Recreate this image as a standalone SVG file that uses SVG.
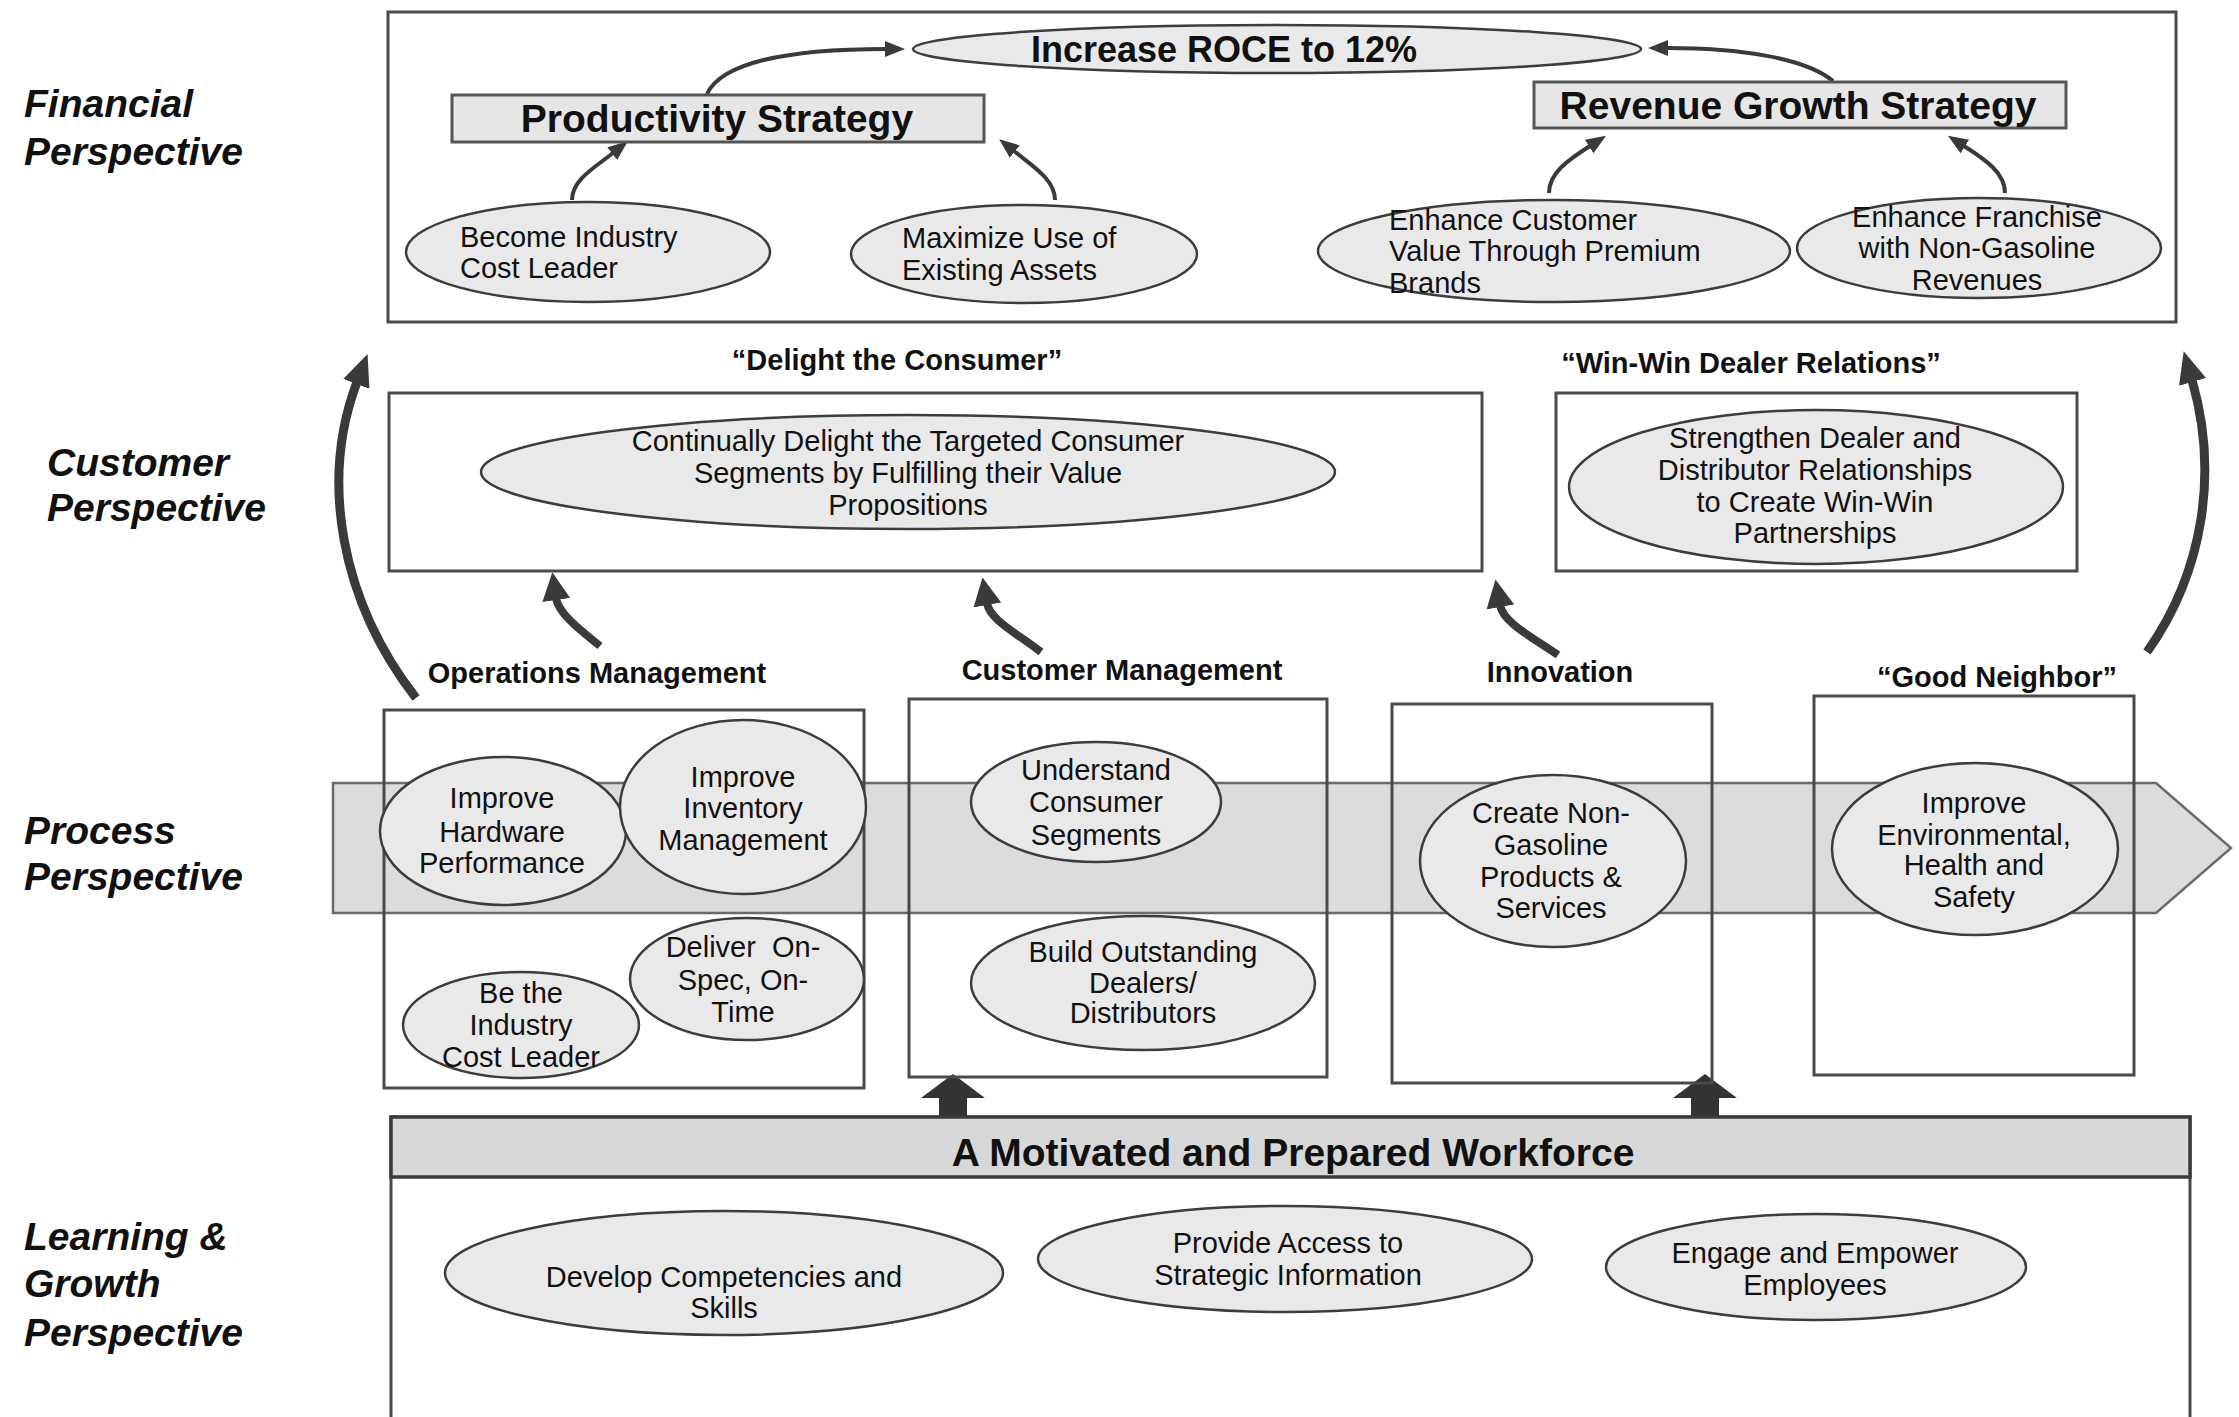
<svg xmlns="http://www.w3.org/2000/svg" width="2239" height="1417" viewBox="0 0 2239 1417">
<style>
.box{fill:none;stroke:#4a4a4a;stroke-width:3}
.ell{fill:#e9e9e9;stroke:#3c3c3c;stroke-width:2.5}
.t{font-family:"Liberation Sans",Arial,sans-serif;font-size:29px;fill:#111}
.c{text-anchor:middle}
.b{font-weight:bold}
.s36{font-size:36px}
.s39{font-size:39px}
.p{font-family:"Liberation Sans",Arial,sans-serif;font-size:39px;font-weight:bold;font-style:italic;fill:#111}
.thin{fill:none;stroke:#3a3a3a;stroke-width:4}
.mid{fill:none;stroke:#3a3a3a;stroke-width:8}
.big{fill:none;stroke:#3a3a3a;stroke-width:9}
.blk{fill:#333;stroke:none}
</style>
<defs>
<marker id="ah" markerUnits="userSpaceOnUse" viewBox="0 0 20 16" refX="1" refY="8" markerWidth="20" markerHeight="16" orient="auto"><path d="M0,0 L20,8 L0,16 Z" fill="#3a3a3a"/></marker>
<marker id="ahm" markerUnits="userSpaceOnUse" viewBox="0 0 28 28" refX="2" refY="14" markerWidth="28" markerHeight="28" orient="auto"><path d="M0,0 L28,14 L0,28 Z" fill="#3a3a3a"/></marker>
<marker id="ahb" markerUnits="userSpaceOnUse" viewBox="0 0 32 28" refX="2" refY="14" markerWidth="32" markerHeight="28" orient="auto"><path d="M0,0 L32,14 L0,28 Z" fill="#3a3a3a"/></marker>
</defs>
<rect width="2239" height="1417" fill="#ffffff"/>

<g id="labels">
<text class="p" x="24" y="117">Financial</text>
<text class="p" x="24" y="165">Perspective</text>
<text class="p" x="47" y="476">Customer</text>
<text class="p" x="47" y="521">Perspective</text>
<text class="p" x="24" y="844">Process</text>
<text class="p" x="24" y="890">Perspective</text>
<text class="p" x="24" y="1250">Learning &amp;</text>
<text class="p" x="24" y="1297">Growth</text>
<text class="p" x="24" y="1346">Perspective</text>
</g>

<g id="financial-frame"><rect class="box" x="388" y="12" width="1788" height="310" stroke="#666"/></g>

<g id="band"><path d="M333,783 L2156,783 L2231,848 L2156,913 L333,913 Z" fill="#dcdcdc" stroke="#6a6a6a" stroke-width="2.5"/></g>

<g id="connectors">
<path class="thin" d="M707,94 C722,62 790,49 886,49" marker-end="url(#ah)"/>
<path class="thin" d="M1833,81 C1805,58 1740,48 1667,48" marker-end="url(#ah)"/>
<path class="thin" d="M572,200 C572,180 594,168 613,153" marker-end="url(#ah)"/>
<path class="thin" d="M1055,200 C1055,180 1034,167 1014,151" marker-end="url(#ah)"/>
<path class="thin" d="M1549,193 C1549,173 1568,160 1590,146" marker-end="url(#ah)"/>
<path class="thin" d="M2005,193 C2005,173 1986,160 1964,146" marker-end="url(#ah)"/>
<path class="mid" d="M600,646 C575,626 558,612 556,598" marker-end="url(#ahm)"/>
<path class="mid" d="M1041,652 C1015,632 990,620 987,603" marker-end="url(#ahm)"/>
<path class="mid" d="M1558,655 C1530,636 1503,622 1500,605" marker-end="url(#ahm)"/>
<path class="big" d="M416,698 C340,600 320,480 357,382" marker-end="url(#ahb)"/>
<path class="big" d="M2147,652 C2205,570 2218,470 2192,380" marker-end="url(#ahb)"/>
<polygon class="blk" points="953,1074 985,1098 967,1098 967,1117 939,1117 939,1098 921,1098"/>
<polygon class="blk" points="1705,1074 1737,1098 1719,1098 1719,1117 1691,1117 1691,1098 1673,1098"/>
</g>

<g id="roce">
<ellipse class="ell" cx="1277" cy="49" rx="364" ry="24"/>
<text class="t b c s36" x="1224" y="62">Increase ROCE to 12%</text>
</g>
<g id="productivity">
<rect x="452" y="95" width="532" height="47" fill="#e6e6e6" stroke="#555" stroke-width="3"/>
<text class="t b c s39" x="717" y="132">Productivity Strategy</text>
</g>
<g id="revenue">
<rect x="1534" y="82" width="532" height="46" fill="#e6e6e6" stroke="#555" stroke-width="3"/>
<text class="t b c s39" x="1798" y="119">Revenue Growth Strategy</text>
</g>
<g id="become-cost-leader">
<ellipse class="ell" cx="588" cy="252" rx="182" ry="50"/>
<text class="t" x="460" y="247">Become Industry</text>
<text class="t" x="460" y="278">Cost Leader</text>
</g>
<g id="maximize-assets">
<ellipse class="ell" cx="1024" cy="254" rx="173" ry="49"/>
<text class="t" x="902" y="248">Maximize Use of</text>
<text class="t" x="902" y="280">Existing Assets</text>
</g>
<g id="enhance-customer-value">
<ellipse class="ell" cx="1554" cy="251" rx="236" ry="51"/>
<text class="t" x="1389" y="230">Enhance Customer</text>
<text class="t" x="1389" y="261">Value Through Premium</text>
<text class="t" x="1389" y="293">Brands</text>
</g>
<g id="enhance-franchise">
<ellipse class="ell" cx="1979" cy="248" rx="182" ry="50"/>
<text class="t c" x="1977" y="227">Enhance Franchise</text>
<text class="t c" x="1977" y="258">with Non-Gasoline</text>
<text class="t c" x="1977" y="290">Revenues</text>
</g>

<g id="delight-consumer">
<text class="t b c" x="897" y="370">“Delight the Consumer”</text>
<rect class="box" x="389" y="393" width="1093" height="178"/>
<ellipse class="ell" cx="908" cy="472" rx="427" ry="57"/>
<text class="t c" x="908" y="451">Continually Delight the Targeted Consumer</text>
<text class="t c" x="908" y="483">Segments by Fulfilling their Value</text>
<text class="t c" x="908" y="515">Propositions</text>
</g>
<g id="win-win">
<text class="t b c" x="1751" y="373">“Win-Win Dealer Relations”</text>
<rect class="box" x="1556" y="393" width="521" height="178"/>
<ellipse class="ell" cx="1816" cy="487" rx="247" ry="77"/>
<text class="t c" x="1815" y="448">Strengthen Dealer and</text>
<text class="t c" x="1815" y="480">Distributor Relationships</text>
<text class="t c" x="1815" y="512">to Create Win-Win</text>
<text class="t c" x="1815" y="543">Partnerships</text>
</g>

<g id="operations-management">
<text class="t b c" x="597" y="683">Operations Management</text>
<rect class="box" x="384" y="710" width="480" height="378"/>
<ellipse class="ell" cx="503" cy="831" rx="123" ry="74"/>
<text class="t c" x="502" y="808">Improve</text>
<text class="t c" x="502" y="842">Hardware</text>
<text class="t c" x="502" y="873">Performance</text>
<ellipse class="ell" cx="743" cy="807" rx="123" ry="87"/>
<text class="t c" x="743" y="787">Improve</text>
<text class="t c" x="743" y="818">Inventory</text>
<text class="t c" x="743" y="850">Management</text>
<ellipse class="ell" cx="747" cy="979" rx="117" ry="61"/>
<text class="t c" x="743" y="957">Deliver&#160; On-</text>
<text class="t c" x="743" y="990">Spec, On-</text>
<text class="t c" x="743" y="1022">Time</text>
<ellipse class="ell" cx="521" cy="1025" rx="118" ry="53"/>
<text class="t c" x="521" y="1003">Be the</text>
<text class="t c" x="521" y="1035">Industry</text>
<text class="t c" x="521" y="1067">Cost Leader</text>
</g>
<g id="customer-management">
<text class="t b c" x="1122" y="680">Customer Management</text>
<rect class="box" x="909" y="699" width="418" height="378"/>
<ellipse class="ell" cx="1096" cy="802" rx="125" ry="60"/>
<text class="t c" x="1096" y="780">Understand</text>
<text class="t c" x="1096" y="812">Consumer</text>
<text class="t c" x="1096" y="845">Segments</text>
<ellipse class="ell" cx="1143" cy="983" rx="172" ry="67"/>
<text class="t c" x="1143" y="962">Build Outstanding</text>
<text class="t c" x="1143" y="993">Dealers/</text>
<text class="t c" x="1143" y="1023">Distributors</text>
</g>
<g id="innovation">
<text class="t b c" x="1560" y="682">Innovation</text>
<rect class="box" x="1392" y="704" width="320" height="379"/>
<ellipse class="ell" cx="1553" cy="861" rx="133" ry="86"/>
<text class="t c" x="1551" y="823">Create Non-</text>
<text class="t c" x="1551" y="855">Gasoline</text>
<text class="t c" x="1551" y="887">Products &amp;</text>
<text class="t c" x="1551" y="918">Services</text>
</g>
<g id="good-neighbor">
<text class="t b c" x="1997" y="687">“Good Neighbor”</text>
<rect class="box" x="1814" y="696" width="320" height="379"/>
<ellipse class="ell" cx="1975" cy="849" rx="143" ry="86"/>
<text class="t c" x="1974" y="813">Improve</text>
<text class="t c" x="1974" y="845">Environmental,</text>
<text class="t c" x="1974" y="875">Health and</text>
<text class="t c" x="1974" y="907">Safety</text>
</g>

<g id="workforce">
<rect class="box" x="391" y="1117" width="1799" height="330"/>
<rect x="391" y="1117" width="1799" height="60" fill="#d8d8d8" stroke="#3a3a3a" stroke-width="3.5"/>
<text class="t b c s39" x="1293" y="1166">A Motivated and Prepared Workforce</text>
</g>
<g id="develop-competencies">
<ellipse class="ell" cx="724" cy="1273" rx="279" ry="62"/>
<text class="t c" x="724" y="1287">Develop Competencies and</text>
<text class="t c" x="724" y="1318">Skills</text>
</g>
<g id="strategic-information">
<ellipse class="ell" cx="1285" cy="1259" rx="247" ry="53"/>
<text class="t c" x="1288" y="1253">Provide Access to</text>
<text class="t c" x="1288" y="1285">Strategic Information</text>
</g>
<g id="engage-employees">
<ellipse class="ell" cx="1816" cy="1267" rx="210" ry="53"/>
<text class="t c" x="1815" y="1263">Engage and Empower</text>
<text class="t c" x="1815" y="1295">Employees</text>
</g>
</svg>
